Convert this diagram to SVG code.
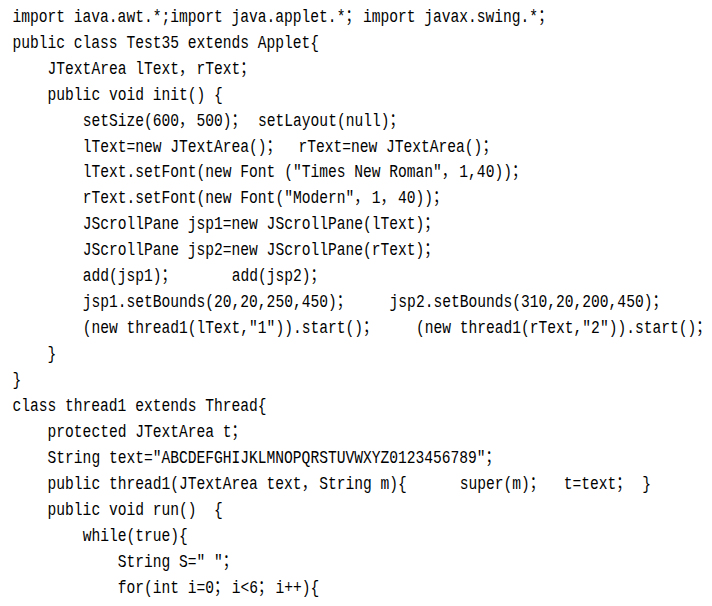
<svg xmlns="http://www.w3.org/2000/svg" width="712" height="606" viewBox="0 0 712 606" xml:space="preserve">
<style>
text{font-family:"Liberation Mono","DejaVu Sans Mono","Noto Sans CJK SC",monospace;font-size:18px;fill:#000;white-space:pre}
.fw{font-family:"Noto Sans CJK SC","Noto Sans CJK JP",sans-serif;letter-spacing:3.6px}
.fe{font-family:"Noto Sans CJK SC","Noto Sans CJK JP",sans-serif}
</style>
<rect width="712" height="606" fill="#fff"/>
<g id="code" transform="translate(12.5 0) scale(0.81204 1)">
<text id="l1" x="0" y="21.8">import iava.awt.*;import java.applet.*<tspan class="fw">；</tspan>import javax.swing.*<tspan class="fe">；</tspan></text>
<text id="l2" x="0" y="47.75">public class Test35 extends Applet{</text>
<text id="l3" x="43.2" y="73.7">JTextArea lText<tspan class="fw">，</tspan>rText<tspan class="fe">；</tspan></text>
<text id="l4" x="43.2" y="99.65">public void init() {</text>
<text id="l5" x="86.4" y="125.6">setSize(600<tspan class="fw">，</tspan>500)<tspan class="fw">；</tspan><tspan x="302.4">setLayout(null)</tspan><tspan class="fe">；</tspan></text>
<text id="l6" x="86.4" y="151.55">lText=new JTextArea()<tspan class="fw">；</tspan><tspan x="352.1">rText=new JTextArea()</tspan><tspan class="fe">；</tspan></text>
<text id="l7" x="86.4" y="177.5">lText.setFont(new Font (″Times New Roman″<tspan class="fw">，</tspan>1,40))<tspan class="fe">；</tspan></text>
<text id="l8" x="86.4" y="203.45">rText.setFont(new Font(″Modern″<tspan class="fw">，</tspan>1<tspan class="fw">，</tspan>40))<tspan class="fe">；</tspan></text>
<text id="l9" x="86.4" y="229.4">JScrollPane jsp1=new JScrollPane(lText)<tspan class="fe">；</tspan></text>
<text id="l10" x="86.4" y="255.35">JScrollPane jsp2=new JScrollPane(rText)<tspan class="fe">；</tspan></text>
<text id="l11" x="86.4" y="281.3">add(jsp1)<tspan class="fw">；</tspan><tspan x="270">add(jsp2)</tspan><tspan class="fe">；</tspan></text>
<text id="l12" x="86.4" y="307.25">jsp1.setBounds(20,20,250,450)<tspan class="fw">；</tspan><tspan x="464.4">jsp2.setBounds(310,20,200,450)</tspan><tspan class="fe">；</tspan></text>
<text id="l13" x="86.4" y="333.2">(new thread1(lText,″1″)).start()<tspan class="fw">；</tspan><tspan x="496.8">(new thread1(rText,″2″)).start()</tspan><tspan class="fe">；</tspan></text>
<text id="l14" x="43.2" y="359.15">}</text>
<text id="l15" x="0" y="385.1">}</text>
<text id="l16" x="0" y="411.05">class thread1 extends Thread{</text>
<text id="l17" x="43.2" y="437">protected JTextArea t<tspan class="fe">；</tspan></text>
<text id="l18" x="43.2" y="462.95">String text=″ABCDEFGHIJKLMNOPQRSTUVWXYZ0123456789″<tspan class="fe">；</tspan></text>
<text id="l19" x="43.2" y="488.9">public thread1(JTextArea text<tspan class="fw">，</tspan>String m){<tspan x="550.8">super(m)</tspan><tspan class="fw">；</tspan><tspan x="678.8">t=text</tspan><tspan class="fw">；</tspan><tspan x="775.4">}</tspan></text>
<text id="l20" x="43.2" y="514.85">public void run()  {</text>
<text id="l21" x="86.4" y="540.8">while(true){</text>
<text id="l22" x="129.6" y="566.75">String S=″ ″<tspan class="fe">；</tspan></text>
<text id="l23" x="129.6" y="592.7">for(int i=0<tspan class="fw">；</tspan>i&lt;6<tspan class="fw">；</tspan>i++){</text>
</g>
</svg>
